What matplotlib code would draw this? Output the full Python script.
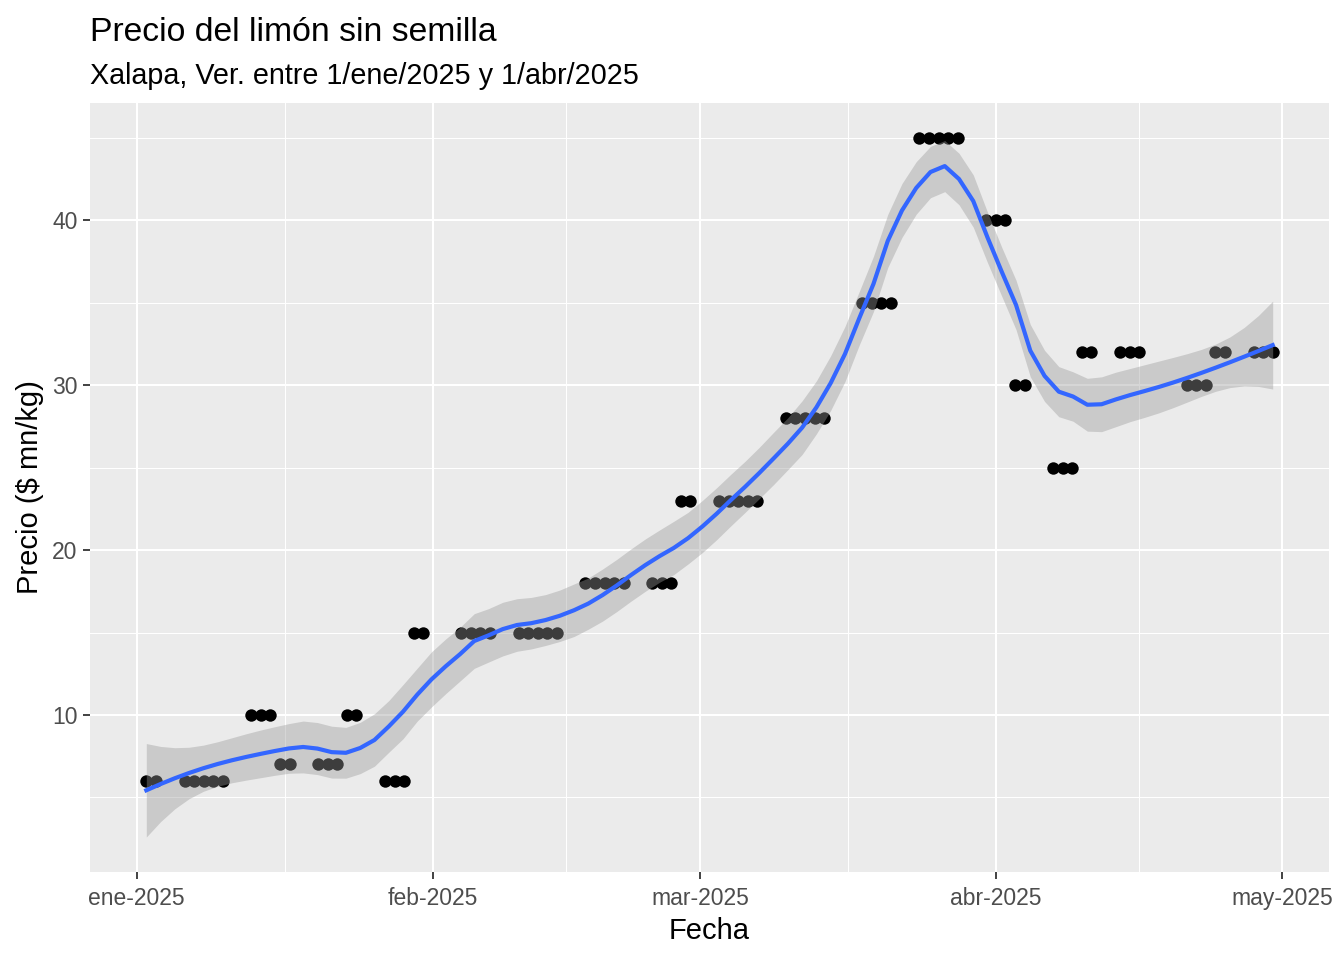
import numpy as np
import pandas as pd
import matplotlib
matplotlib.use('Agg')
import matplotlib.pyplot as plt
from math import gamma


fechas = [
    '2025-01-02', '2025-01-03',
    '2025-01-06', '2025-01-07', '2025-01-08', '2025-01-09', '2025-01-10',
    '2025-01-13', '2025-01-14', '2025-01-15',
    '2025-01-16', '2025-01-17',
    '2025-01-20', '2025-01-21', '2025-01-22',
    '2025-01-23', '2025-01-24',
    '2025-01-27', '2025-01-28', '2025-01-29',
    '2025-01-30', '2025-01-31',
    '2025-02-04', '2025-02-05', '2025-02-06', '2025-02-07',
    '2025-02-10', '2025-02-11', '2025-02-12', '2025-02-13', '2025-02-14',
    '2025-02-17', '2025-02-18', '2025-02-19', '2025-02-20', '2025-02-21',
    '2025-02-24', '2025-02-25', '2025-02-26',
    '2025-02-27', '2025-02-28',
    '2025-03-03', '2025-03-04', '2025-03-05', '2025-03-06', '2025-03-07',
    '2025-03-10', '2025-03-11', '2025-03-12', '2025-03-13', '2025-03-14',
    '2025-03-18', '2025-03-19', '2025-03-20', '2025-03-21',
    '2025-03-24', '2025-03-25', '2025-03-26', '2025-03-27', '2025-03-28',
    '2025-03-31', '2025-04-01', '2025-04-02',
    '2025-04-03', '2025-04-04',
    '2025-04-07', '2025-04-08', '2025-04-09',
    '2025-04-10', '2025-04-11',
    '2025-04-14', '2025-04-15', '2025-04-16',
    '2025-04-21', '2025-04-22', '2025-04-23',
    '2025-04-24', '2025-04-25',
    '2025-04-28', '2025-04-29', '2025-04-30',
]
precios = [
    6, 6,
    6, 6, 6, 6, 6,
    10, 10, 10,
    7, 7,
    7, 7, 7,
    10, 10,
    6, 6, 6,
    15, 15,
    15, 15, 15, 15,
    15, 15, 15, 15, 15,
    18, 18, 18, 18, 18,
    18, 18, 18,
    23, 23,
    23, 23, 23, 23, 23,
    28, 28, 28, 28, 28,
    35, 35, 35, 35,
    45, 45, 45, 45, 45,
    40, 40, 40,
    30, 30,
    25, 25, 25,
    32, 32,
    32, 32, 32,
    30, 30, 30,
    32, 32,
    32, 32, 32,
]
tick_fechas = ['2025-01-01', '2025-02-01', '2025-03-01', '2025-04-01', '2025-05-01']
tick_labels = ['ene-2025', 'feb-2025', 'mar-2025', 'abr-2025', 'may-2025']
y_ticks = [10, 20, 30, 40]

span = 0.3

origen = pd.Timestamp('2025-01-01')
x = np.array([(pd.Timestamp(f) - origen).days for f in fechas], dtype=float)
y = np.array(precios, dtype=float)
xt = np.array([(pd.Timestamp(f) - origen).days for f in tick_fechas], dtype=float)


def loess_row(x, x0, q):
    d = np.abs(x - x0)
    h = np.sort(d)[q - 1]
    w = np.clip(1 - (d / h) ** 3, 0, None) ** 3
    X = np.column_stack([np.ones_like(x), x - x0, (x - x0) ** 2])
    A = X.T @ (w[:, None] * X)
    return np.linalg.solve(A, (X * w[:, None]).T)[0]


def t_quantile(p, df):
    # simple numeric inverse of student t cdf
    grid = np.linspace(0, 10, 20001)
    c = gamma((df + 1) / 2) / (np.sqrt(df * np.pi) * gamma(df / 2))
    pdf = c * (1 + grid ** 2 / df) ** (-(df + 1) / 2)
    cdf = 0.5 + np.concatenate([[0], np.cumsum((pdf[1:] + pdf[:-1]) / 2 * np.diff(grid))])
    return np.interp(p, cdf, grid)


n = len(x)
q = int(np.floor(n * span))
L = np.array([loess_row(x, xi, q) for xi in x])
res = y - L @ y
IL = np.eye(n) - L
M = IL.T @ IL
one_delta = np.trace(M)
two_delta = np.trace(M @ M)
s = np.sqrt(np.sum(res ** 2) / one_delta)
df = one_delta ** 2 / two_delta

xs = np.linspace(x.min(), x.max(), 80)
Ls = np.array([loess_row(x, xi, q) for xi in xs])
fit = Ls @ y
se = s * np.sqrt(np.sum(Ls ** 2, axis=1))
tq = t_quantile(0.975, df)
lo = fit - tq * se
hi = fit + tq * se

plt.rcParams['font.family'] = ['Liberation Sans', 'DejaVu Sans']

fig = plt.figure(figsize=(13.44, 9.6), dpi=100)
ax = fig.add_axes([90 / 1344, 88 / 960, 1239 / 1344, 769 / 960])
ax.set_facecolor('#EBEBEB')
for sp in ax.spines.values():
    sp.set_visible(False)

ax.scatter(x, y, s=80, color='black', linewidths=0, zorder=2)
ax.fill_between(xs, lo, hi, color='#999999', alpha=0.4, linewidth=0, zorder=3)
ax.plot(xs, fit, color='#3366FF', linewidth=3.0, zorder=4)

xr = x.max() - x.min()
ax.set_xlim(x.min() - 0.05 * xr, x.max() + 0.05 * xr)
ymin = min(y.min(), lo.min())
ymax = max(y.max(), hi.max())
yr = ymax - ymin
ax.set_ylim(ymin - 0.05 * yr, ymax + 0.05 * yr)

ax.set_xticks(xt)
ax.set_xticklabels(tick_labels)
ax.set_yticks(y_ticks)
ax.set_xticks((xt[:-1] + xt[1:]) / 2, minor=True)
ax.set_yticks([5, 15, 25, 35, 45], minor=True)
ax.grid(which='major', color='white', linewidth=1.5)
ax.grid(which='minor', color='white', linewidth=0.75)
ax.set_axisbelow(True)
ax.tick_params(which='major', length=5, width=1.3, color='#333333',
               labelsize=16.5, labelcolor='#4D4D4D', pad=4)
ax.tick_params(axis='x', pad=6)
ax.tick_params(which='minor', length=0)

fig.text(90 / 1344, 1 - 41 / 960, 'Precio del limón sin semilla',
         fontsize=24.3, va='baseline', ha='left')
fig.text(90 / 1344, 1 - 84 / 960, 'Xalapa, Ver. entre 1/ene/2025 y 1/abr/2025',
         fontsize=20.7, va='baseline', ha='left')
fig.text(709.5 / 1344, 1 - 939 / 960, 'Fecha', fontsize=21, va='baseline', ha='center')
fig.text(30 / 1344, 1 - 487 / 960, 'Precio ($ mn/kg)', fontsize=21,
         rotation=90, va='center', ha='center')

fig.savefig('out.png', dpi=100, facecolor='white')
